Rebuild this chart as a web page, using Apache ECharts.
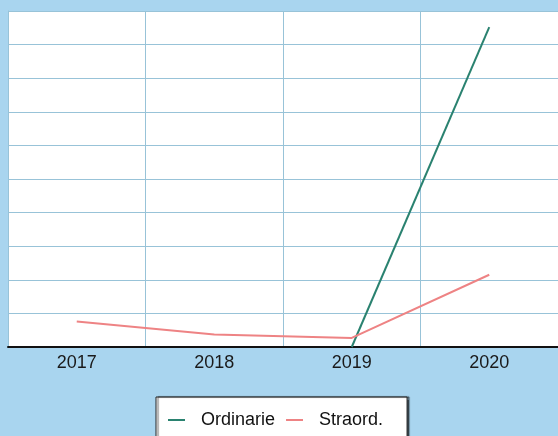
<!DOCTYPE html>
<html><head><meta charset="utf-8">
<script src="https://cdn.jsdelivr.net/npm/echarts@6/dist/echarts.min.js"></script>
<style>html,body{margin:0;padding:0;background:#a9d5ef}#c{width:558px;height:436px}</style>
</head><body><div id="c"></div>
<script>
const categories = ['2017', '2018', '2019', '2020'];
const ordinarie = [null, null, 0, 95.2];
const straord = [7.6, 3.7, 2.7, 21.5];
const seriesNames = ['Ordinarie', 'Straord.'];

const chart = echarts.init(document.getElementById('c'), null, {renderer: 'canvas'});
const gridColor = '#98c3d8';
chart.setOption({
  backgroundColor: '#a9d5ef',
  animation: false,
  grid: {left: 8, top: 11, width: 552, height: 336, backgroundColor: '#ffffff', show: true, borderWidth: 0},
  xAxis: {
    type: 'category', data: categories, boundaryGap: true,
    axisLine: {lineStyle: {color: '#111', width: 2}},
    axisTick: {show: false},
    axisLabel: {color: '#1a1a1a', fontSize: 18, fontFamily: 'Liberation Sans, Arial', margin: 7},
    splitLine: {show: true, lineStyle: {color: gridColor, width: 1}}
  },
  yAxis: {
    type: 'value', min: 0, max: 100, interval: 10,
    axisLabel: {show: false}, axisTick: {show: false},
    axisLine: {show: true, lineStyle: {color: gridColor}},
    splitLine: {lineStyle: {color: gridColor, width: 1}}
  },
  legend: {
    data: seriesNames, left: 156, top: 397,
    backgroundColor: '#ffffff', borderColor: '#222', borderWidth: 1,
    padding: [14, 24, 20, 12], itemGap: 11,
    icon: 'rect', itemWidth: 17, itemHeight: 2,
    textStyle: {color: '#111', fontSize: 18, fontFamily: 'Liberation Sans, Arial', padding: [0, 0, 0, 11]},
    shadowColor: 'rgba(0,0,0,0.6)', shadowOffsetX: 2, shadowBlur: 1
  },
  series: [
    {name: seriesNames[0], type: 'line', data: ordinarie, showSymbol: false, symbol: 'none', color: '#2a8270', lineStyle: {width: 2}},
    {name: seriesNames[1], type: 'line', data: straord, showSymbol: false, symbol: 'none', color: '#ee8384', lineStyle: {width: 2}}
  ]
});
</script></body></html>
